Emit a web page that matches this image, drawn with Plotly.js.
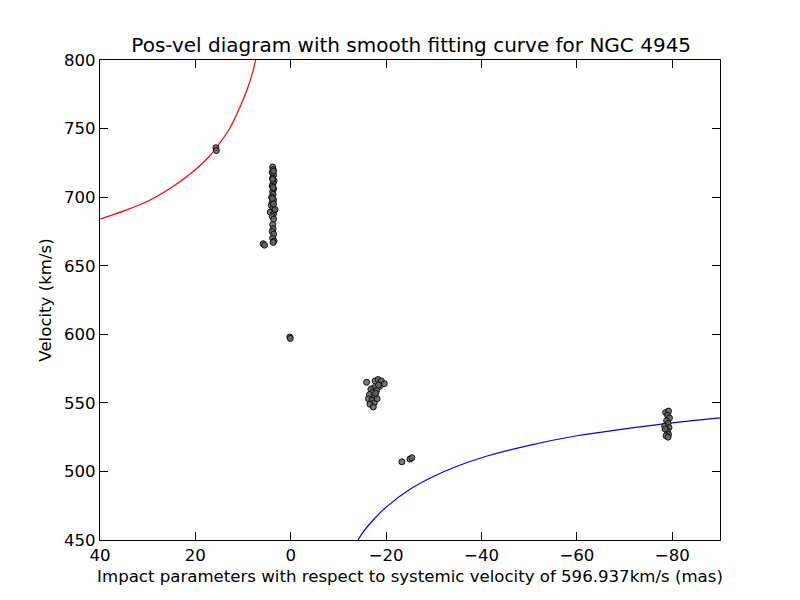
<!DOCTYPE html>
<html><head><meta charset="utf-8">
<script src="https://cdn.plot.ly/plotly-3.0.1.min.js"></script>
<style>body{margin:0;background:#fff}#chart{width:800px;height:600px}</style>
</head><body><div id="chart"></div>
<script>
// Observed maser spots (impact parameter in mas, velocity in km/s)
const pointsX = [
  15.7, 15.6,
  3.8, 3.7, 3.9, 3.6, 3.8, 3.5, 3.7, 3.9, 3.6, 3.8, 3.7, 4.0, 3.6, 3.9, 4.1, 3.7, 3.5, 4.3, 3.6, 3.9, 3.3, 3.6,
  3.8, 3.7, 3.9, 3.6, 3.8, 3.5, 5.8, 5.5, 3.7, 3.6, 3.8, 3.7, 3.9, 3.6,
  0.2, 0.1,
  -15.9, -17.7, -18.3, -19.0, -19.6, -18.6, -17.4, -16.8, -17.2, -18.0, -16.5, -17.6, -16.3, -17.0, -17.5, -18.1, -16.6, -17.3, -18.4, -17.8,
  -23.3, -25.0, -25.4,
  -78.6, -79.2, -79.0, -79.4, -78.8, -79.1, -78.4, -79.3, -78.9, -79.0, -78.5, -79.2, -78.7, -79.1
];
const pointsV = [
  736, 734,
  722, 720, 718, 716, 714, 712, 710, 708, 706, 704, 702, 700, 698, 696, 694, 692, 690, 689, 688, 686, 691, 684,
  680, 677, 675, 673, 670, 668, 666, 665, 667, 719, 713, 707, 699, 695,
  598, 597,
  565, 566, 567, 566, 564, 562, 561, 560, 558, 559, 556, 555, 553, 552, 550, 553, 549, 547, 563, 557,
  507, 509, 510,
  543, 544, 541, 539, 537, 535, 533, 532, 530, 529, 531, 527, 526, 525
];
// Fitting curve, approaching side
const redX = [40, 35, 30, 25, 20, 17, 15, 13, 11, 10, 9, 8, 7.5, 7.2];
const redV = [684, 690, 697, 707, 720, 730, 739, 749, 763, 771, 780, 791, 798, 802];
// Fitting curve, receding side
const blueX = [-13.8, -15, -17, -20, -25, -30, -35, -40, -50, -60, -70, -80, -90];
const blueV = [448, 455, 463.5, 474, 487, 496.5, 504, 510, 519, 526, 531, 535.4, 539];
const xTicks = [40, 20, 0, -20, -40, -60, -80];
const yTicks = [450, 500, 550, 600, 650, 700, 750, 800];

const font = {family: 'DejaVu Sans, sans-serif', size: 16.6, color: '#000'};
const traces = [
  {x: redX, y: redV, mode: 'lines', line: {color: '#ff0000', width: 1.2, shape: 'spline'}, hoverinfo: 'none'},
  {x: blueX, y: blueV, mode: 'lines', line: {color: '#0000ff', width: 1.2, shape: 'spline'}, hoverinfo: 'none'},
  {x: pointsX, y: pointsV, mode: 'markers',
   marker: {color: 'rgba(100,100,100,0.85)', size: 6, line: {color: '#111', width: 1}}}
];
const axisBase = {showgrid: false, zeroline: false, showline: true, linecolor: '#000', linewidth: 1,
  mirror: 'ticks', ticks: 'inside', ticklen: 8, tickwidth: 1, tickcolor: '#000', tickfont: font};
const layout = {
  width: 800, height: 600, showlegend: false,
  margin: {l: 100, r: 80, t: 60, b: 60},
  paper_bgcolor: '#fff', plot_bgcolor: '#fff',
  font: font,
  title: {text: 'Pos-vel diagram with smooth fitting curve for NGC 4945', font: {family: 'DejaVu Sans, sans-serif', size: 20, color: '#000'}, x: 0.514, xanchor: 'center', y: 0.913, yanchor: 'bottom'},
  xaxis: Object.assign({}, axisBase, {range: [40, -90], tickvals: xTicks, ticktext: xTicks.map(v => v < 0 ? '\u2212' + Math.abs(v) : String(v)),
    title: {text: 'Impact parameters with respect to systemic velocity of 596.937km/s (mas)', font: font, standoff: 6}}),
  yaxis: Object.assign({}, axisBase, {range: [450, 800], tickvals: yTicks,
    title: {text: 'Velocity (km/s)', font: font, standoff: 8}})
};
Plotly.newPlot('chart', traces, layout, {displayModeBar: false, staticPlot: true});
</script></body></html>
